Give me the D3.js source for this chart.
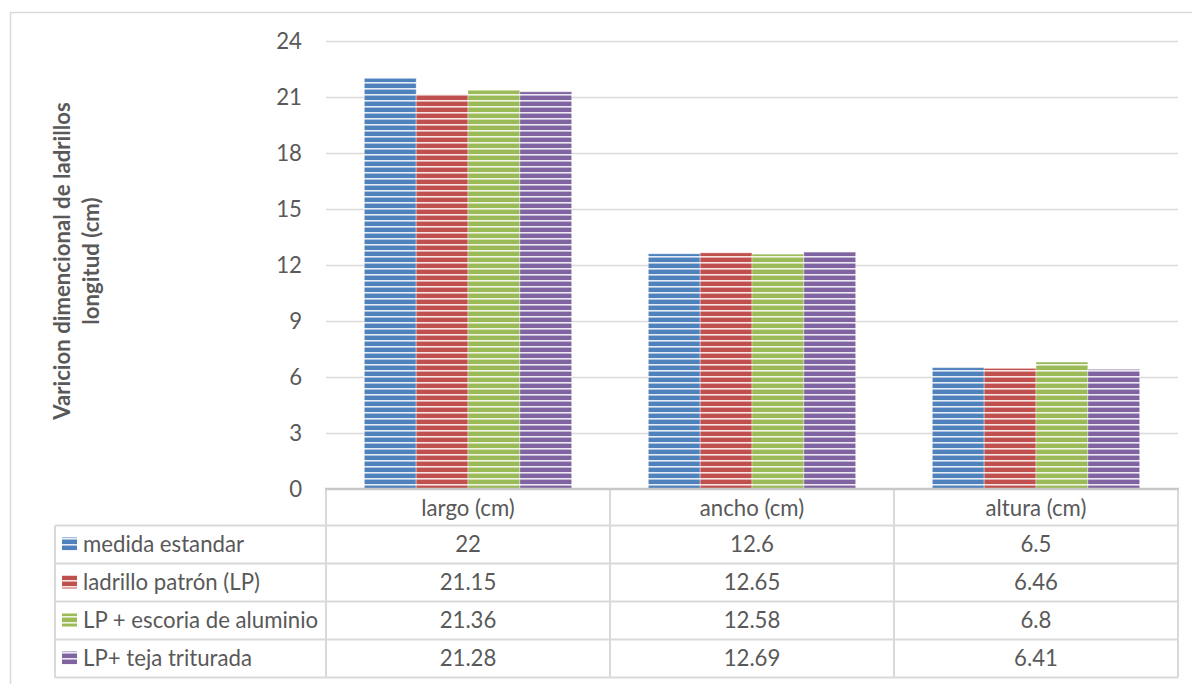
<!DOCTYPE html>
<html>
<head>
<meta charset="utf-8">
<script src="https://cdn.jsdelivr.net/npm/d3@7"></script>
<style>
  html, body { margin: 0; padding: 0; background: #fff; }
  svg { display: block; }
  text { font-family: Lato, "Open Sans", sans-serif; fill: #595959; }
</style>
</head>
<body>
<svg id="chart" width="1192" height="684"></svg>
<script>
// Dimensiones de ladrillos por tipo de mezcla
const categories = ["largo (cm)", "ancho (cm)", "altura (cm)"];
const seriesNames = ["medida estandar", "ladrillo patrón (LP)", "LP + escoria de aluminio", "LP+ teja triturada"];
const medidaEstandar = [22, 12.6, 6.5];
const ladrilloPatron = [21.15, 12.65, 6.46];
const escoriaAluminio = [21.36, 12.58, 6.8];
const tejaTriturada = [21.28, 12.69, 6.41];
const yTicks = [0, 3, 6, 9, 12, 15, 18, 21, 24];
const seriesColors = ["#4f81bd", "#c0504d", "#9bbb59", "#8064a2"];
const yTitle = ["Varicion dimencional de ladrillos", "longitud (cm)"];

const seriesValues = [medidaEstandar, ladrilloPatron, escoriaAluminio, tejaTriturada];
const FS = "22.2px";

const svg = d3.select("#chart");

// Marco del gráfico
svg.append("path")
  .attr("d", "M10.5,684 L10.5,12.5 L1192,12.5")
  .attr("fill", "none").attr("stroke", "#d9d9d9").attr("stroke-width", 1.5);

// Patrón de rayas horizontales para cada serie
const defs = svg.append("defs");
seriesColors.forEach((c, i) => {
  const p = defs.append("pattern")
    .attr("id", "stripe" + i)
    .attr("patternUnits", "userSpaceOnUse")
    .attr("width", 8).attr("height", 6);
  p.append("rect").attr("width", 8).attr("height", 6).attr("fill", c);
  p.append("rect").attr("y", 4).attr("width", 8).attr("height", 1.6)
    .attr("fill", "#fff").attr("opacity", 0.85);
});

const plot = { left: 326, right: 1178, top: 41, bottom: 489 };

const x0 = d3.scaleBand().domain(categories).range([plot.left, plot.right]).paddingInner(0).paddingOuter(0);
const x1 = d3.scaleBand().domain(d3.range(seriesNames.length))
  .range([0, x0.bandwidth()]).paddingOuter(0.74).paddingInner(0);
const y = d3.scaleLinear().domain([0, 24]).range([plot.bottom, plot.top]);

// Líneas de cuadrícula
svg.append("g")
  .selectAll("line").data(yTicks.filter(t => t > 0)).join("line")
  .attr("x1", plot.left).attr("x2", plot.right)
  .attr("y1", d => Math.round(y(d)) + 0.5).attr("y2", d => Math.round(y(d)) + 0.5)
  .attr("stroke", "#d9d9d9").attr("stroke-width", 1.5);

// Eje Y
const yAxis = svg.append("g")
  .attr("transform", `translate(${plot.left - 24},0)`)
  .call(d3.axisLeft(y).tickValues(yTicks).tickSize(0).tickPadding(0));
yAxis.select(".domain").remove();
yAxis.selectAll("text").style("font-size", FS).attr("fill", "#595959")
  .style("font-family", "Lato, sans-serif");

// Barras
const groups = svg.append("g").selectAll("g").data(categories).join("g")
  .attr("transform", c => `translate(${x0(c)},0)`);
groups.selectAll("rect")
  .data((c, ci) => seriesValues.map((vals, si) => ({ si, v: vals[ci] })))
  .join("rect")
  .attr("x", d => x1(d.si))
  .attr("width", x1.bandwidth())
  .attr("y", d => y(d.v))
  .attr("height", d => y(0) - y(d.v))
  .attr("fill", d => `url(#stripe${d.si})`)
  .attr("stroke", "rgba(255,255,255,0.35)").attr("stroke-width", 1);

// Título del eje Y
const yt = svg.append("text")
  .attr("transform", `translate(76,261) rotate(-90)`)
  .attr("text-anchor", "middle")
  .style("font-size", FS).style("font-weight", "bold");
yt.selectAll("tspan").data(yTitle).join("tspan")
  .attr("x", 0).attr("dy", (d, i) => i === 0 ? -6 : 29)
  .text(d => d);

// Tabla de datos
const rowH = 38;
const headerTop = plot.bottom;
const headerH = 36.5;
const tableLeft = 55;
const rowTop = i => headerTop + headerH + i * rowH;
const tableBottom = rowTop(seriesNames.length);
const lineColor = "#d9d9d9";
const tbl = svg.append("g");

// líneas horizontales
tbl.selectAll("line.h").data(d3.range(seriesNames.length + 1)).join("line")
  .attr("class", "h")
  .attr("x1", tableLeft).attr("x2", plot.right)
  .attr("y1", i => rowTop(i)).attr("y2", i => rowTop(i))
  .attr("stroke", lineColor).attr("stroke-width", 2);
// líneas verticales de columnas
const colEdges = [plot.left].concat(categories.map(c => x0(c) + x0.bandwidth()));
tbl.selectAll("line.v").data(colEdges).join("line")
  .attr("class", "v")
  .attr("x1", d => d).attr("x2", d => d)
  .attr("y1", headerTop).attr("y2", tableBottom)
  .attr("stroke", lineColor).attr("stroke-width", 2);
tbl.append("line")
  .attr("x1", tableLeft).attr("x2", tableLeft)
  .attr("y1", rowTop(0)).attr("y2", tableBottom)
  .attr("stroke", lineColor).attr("stroke-width", 2);
// eje X (borde superior de la tabla)
tbl.append("line")
  .attr("x1", plot.left - 1).attr("x2", plot.right + 1)
  .attr("y1", plot.bottom).attr("y2", plot.bottom)
  .attr("stroke", "#c8c8c8").attr("stroke-width", 2.5);

// encabezados de categoría
tbl.selectAll("text.cat").data(categories).join("text")
  .attr("class", "cat")
  .attr("x", c => x0(c) + x0.bandwidth() / 2)
  .attr("y", headerTop + headerH / 2 + 1)
  .attr("dy", "0.35em").attr("text-anchor", "middle")
  .style("font-size", FS).text(c => c);

// filas de series
seriesNames.forEach((name, si) => {
  const cy = rowTop(si) + rowH / 2;
  tbl.append("rect")
    .attr("x", 62).attr("y", cy - 7).attr("width", 15).attr("height", 13)
    .attr("fill", `url(#stripe${si})`);
  tbl.append("text")
    .attr("x", 83).attr("y", cy).attr("dy", "0.35em")
    .style("font-size", FS).text(name);
  tbl.selectAll(null).data(categories).join("text")
    .attr("x", c => x0(c) + x0.bandwidth() / 2)
    .attr("y", cy).attr("dy", "0.35em").attr("text-anchor", "middle")
    .style("font-size", FS)
    .text((c, ci) => seriesValues[si][ci]);
});
</script>
</body>
</html>
